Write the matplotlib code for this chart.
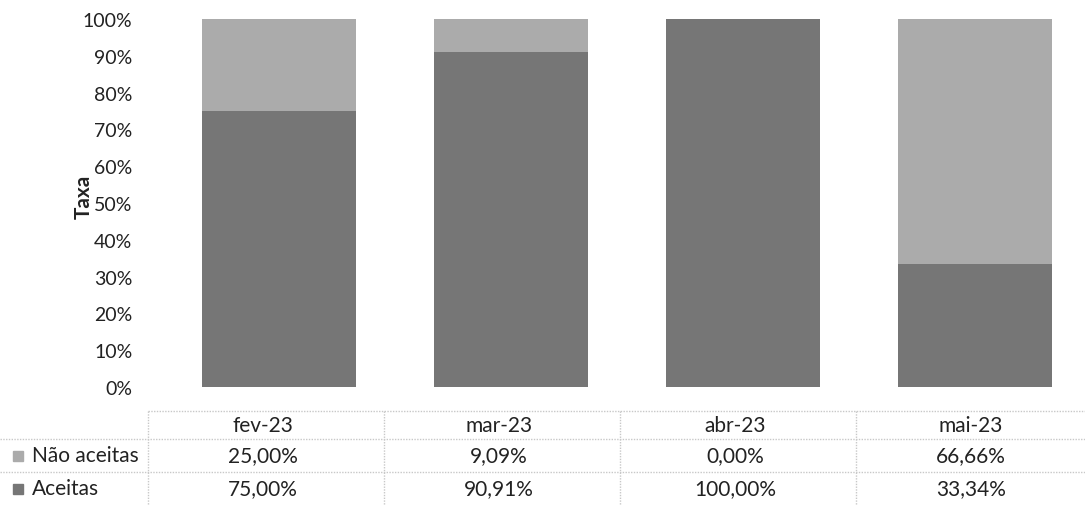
import numpy as np
import matplotlib
matplotlib.use("Agg")
import matplotlib.pyplot as plt
from matplotlib.lines import Line2D

plt.rcParams['font.family'] = ['Lato', 'DejaVu Sans']

meses = ["fev-23", "mar-23", "abr-23", "mai-23"]
nao_aceitas = [25.00, 9.09, 0.00, 66.66]
aceitas = [75.00, 90.91, 100.00, 33.34]
series_names = ["Não aceitas", "Aceitas"]
yticks = [0, 10, 20, 30, 40, 50, 60, 70, 80, 90, 100]

cor_nao = "#ababab"
cor_ace = "#767676"
txt = "#222222"
grid_c = "#c8c8c8"

W, H = 1085, 506
fig = plt.figure(figsize=(W / 100, H / 100), dpi=100)

# plot area in pixels (left, top, right, bottom)
px_l, px_r = 163, 1085
px_top, px_bot = 20, 388
ax = fig.add_axes([px_l / W, 1 - px_bot / H, (px_r - px_l) / W, (px_bot - px_top) / H])

x = np.arange(len(meses))
ax.bar(x, aceitas, width=0.66, color=cor_ace, zorder=2)
ax.bar(x, nao_aceitas, width=0.66, bottom=aceitas, color=cor_nao, zorder=2)

ax.set_xlim(-0.5, -0.5 + (px_r - px_l) / 232)
ax.set_ylim(0, 100)
ax.set_yticks(yticks)
ax.set_yticklabels([f"{v}%" for v in yticks], fontsize=14, color=txt)
ax.tick_params(axis='y', length=0, pad=22)
ax.set_xticks([])
for s in ax.spines.values():
    s.set_visible(False)
ax.set_ylabel("Taxa", fontsize=15, fontweight='bold', color=txt)
ax.yaxis.set_label_coords((94 - px_l) / (px_r - px_l), 0.52)

# data table below the chart
col_edges = [148, 384, 620, 856, 1092]
row_edges = [412, 440, 473, 506]

def fx(p):
    return p / W

def fy(p):
    return 1 - p / H

# horizontal lines
fig.add_artist(Line2D([fx(148), fx(W)], [fy(row_edges[0])] * 2, color=grid_c, lw=1, ls=(0, (1, 1))))
for r in row_edges[1:3]:
    fig.add_artist(Line2D([0, fx(W)], [fy(r)] * 2, color=grid_c, lw=1, ls=(0, (1, 1))))
# vertical lines
for c in col_edges[:-1]:
    fig.add_artist(Line2D([fx(c)] * 2, [fy(row_edges[0]), 0], color=grid_c, lw=1, ls=(0, (1, 1))))

centers = [(col_edges[i] + col_edges[i + 1]) / 2 - 3 for i in range(len(meses))]
mid = lambda i: (row_edges[i] + row_edges[i + 1]) / 2

for i, m in enumerate(meses):
    fig.text(fx(centers[i]), fy(mid(0)), m, ha='center', va='center', fontsize=15, color=txt)
    fig.text(fx(centers[i]), fy(mid(1)), f"{nao_aceitas[i]:.2f}%".replace('.', ','),
             ha='center', va='center', fontsize=15, color=txt)
    fig.text(fx(centers[i]), fy(mid(2)), f"{aceitas[i]:.2f}%".replace('.', ','),
             ha='center', va='center', fontsize=15, color=txt)

for k, (nome, cor) in enumerate(zip(series_names, [cor_nao, cor_ace])):
    yc = mid(k + 1)
    fig.add_artist(plt.Rectangle((fx(13), fy(yc + 5)), 10 / W, 10 / H, color=cor))
    fig.text(fx(32), fy(yc), nome, ha='left', va='center', fontsize=15, color=txt)

fig.savefig("out.png", dpi=100)
